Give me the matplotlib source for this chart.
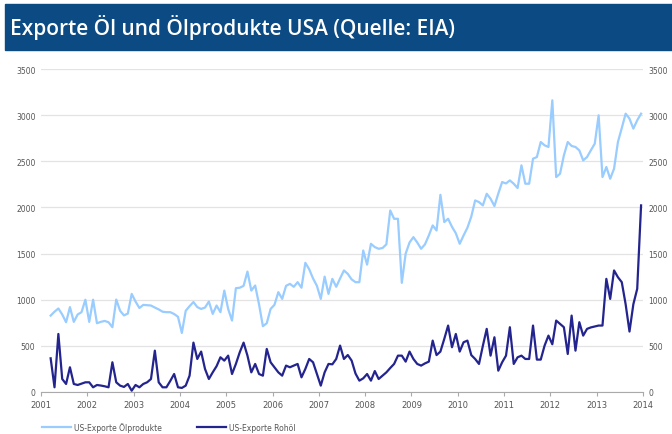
import matplotlib.pyplot as plt
from matplotlib.patches import Rectangle
import pandas as pd

# monthly data, Mar 2001 - Dec 2013 (1000 barrels/day)
months = pd.date_range('2001-03-01', '2013-12-01', freq='MS')

produkte = [
    828, 870, 905, 840, 756, 920, 760, 840, 865, 1000, 760, 1000,
    745, 760, 770, 756, 702, 1002, 880, 830, 850, 1063, 980, 910,
    944, 940, 937, 915, 895, 870, 865, 865, 845, 815, 640, 880,
    930, 975, 920, 900, 915, 980, 846, 937, 865, 1099, 900, 774,
    1125, 1130, 1150, 1305, 1099, 1154, 950, 713, 745, 900, 945, 1082,
    1009, 1150, 1172, 1140, 1190, 1130, 1400, 1330, 1230, 1150, 1009, 1250,
    1063, 1226, 1140, 1230, 1317, 1280, 1220, 1190, 1190, 1533, 1380, 1606,
    1570, 1552, 1560, 1600, 1967, 1877, 1877, 1183, 1500, 1620, 1678, 1620,
    1552, 1600, 1696, 1805, 1750, 2137, 1841, 1877, 1790, 1720, 1606, 1696,
    1780, 1900, 2076, 2058, 2022, 2148, 2094, 2015, 2150, 2275, 2260, 2293,
    2257, 2210, 2456, 2257, 2257, 2528, 2546, 2709, 2673, 2655, 3161, 2329,
    2365, 2564, 2709, 2666, 2655, 2618, 2510, 2546, 2620, 2691, 2998, 2329,
    2438, 2311, 2420, 2709, 2860, 3016, 2962, 2854, 2944, 3016,
]

rohoel = [
    365, 51, 629, 141, 87, 268, 87, 76, 90, 105, 105, 51,
    76, 70, 62, 51, 322, 105, 69, 55, 87, 14, 76, 51,
    87, 105, 141, 448, 105, 51, 51, 120, 195, 51, 44, 69,
    177, 535, 358, 438, 250, 141, 213, 280, 376, 340, 394, 195,
    304, 430, 535, 394, 213, 304, 195, 177, 467, 322, 268, 213,
    177, 286, 268, 286, 304, 159, 250, 358, 322, 195, 69, 213,
    304, 300, 358, 503, 358, 401, 340, 200, 123, 148, 195, 123,
    227, 141, 177, 213, 260, 304, 394, 394, 329, 438, 358, 304,
    286, 310, 329, 557, 400, 438, 575, 720, 485, 629, 438, 539,
    557, 400, 358, 304, 500, 684, 394, 593, 231, 322, 394, 702,
    304, 376, 394, 358, 358, 720, 351, 351, 503, 611, 517, 774,
    738, 702, 412, 828, 448, 756, 611, 684, 700, 710, 720, 720,
    1226, 1009, 1317, 1244, 1190, 951, 655, 951, 1118, 2022,
]

years = list(range(2001, 2015))
yticks = list(range(0, 3501, 500))

x = months.year + (months.month - 0.5) / 12

fig = plt.figure(figsize=(6.72, 4.35), dpi=100)

# title bar
fig.patches.append(Rectangle((5 / 672, 1 - 51 / 435), 1, 46 / 435,
                             transform=fig.transFigure, color='#0B4A82', zorder=0))
fig.text(10 / 672, 1 - 28 / 435, 'Exporte Öl und Ölprodukte USA (Quelle: EIA)',
         color='white', fontsize=15, family='Open Sans', fontweight='semibold',
         va='center', ha='left')

ax = fig.add_axes([41 / 672, 42 / 435, 602 / 672, 323 / 435])
ax.plot(x, produkte, color='#99CCFF', lw=1.6, label='US-Exporte Ölprodukte')
ax.plot(x, rohoel, color='#24248F', lw=1.6, label='US-Exporte Rohöl')

ax.set_xlim(2001, 2014)
ax.set_ylim(0, 3500)
ax.set_xticks(years)
ax.set_yticks(yticks)
ax.grid(axis='y', color='#E3E3E3', lw=0.9)
ax.set_axisbelow(True)
for s in ['top', 'left', 'right']:
    ax.spines[s].set_visible(False)
ax.spines['bottom'].set_color('#AAAAAA')
ax.tick_params(axis='x', colors='#AAAAAA', labelcolor='#555555', labelsize=6,
               length=3, pad=3)
ax.tick_params(axis='y', length=0, labelcolor='#555555', labelsize=5.5,
               labelright=True, pad=4)

fig.legend(loc='lower left', bbox_to_anchor=(40 / 672, 0.0), ncol=2,
           frameon=False, fontsize=5.5, handlelength=3.8, handletextpad=0.4,
           columnspacing=4.5, labelcolor='#555555', borderaxespad=0.1,
           borderpad=0.2)

plt.savefig('out.png', dpi=100)
